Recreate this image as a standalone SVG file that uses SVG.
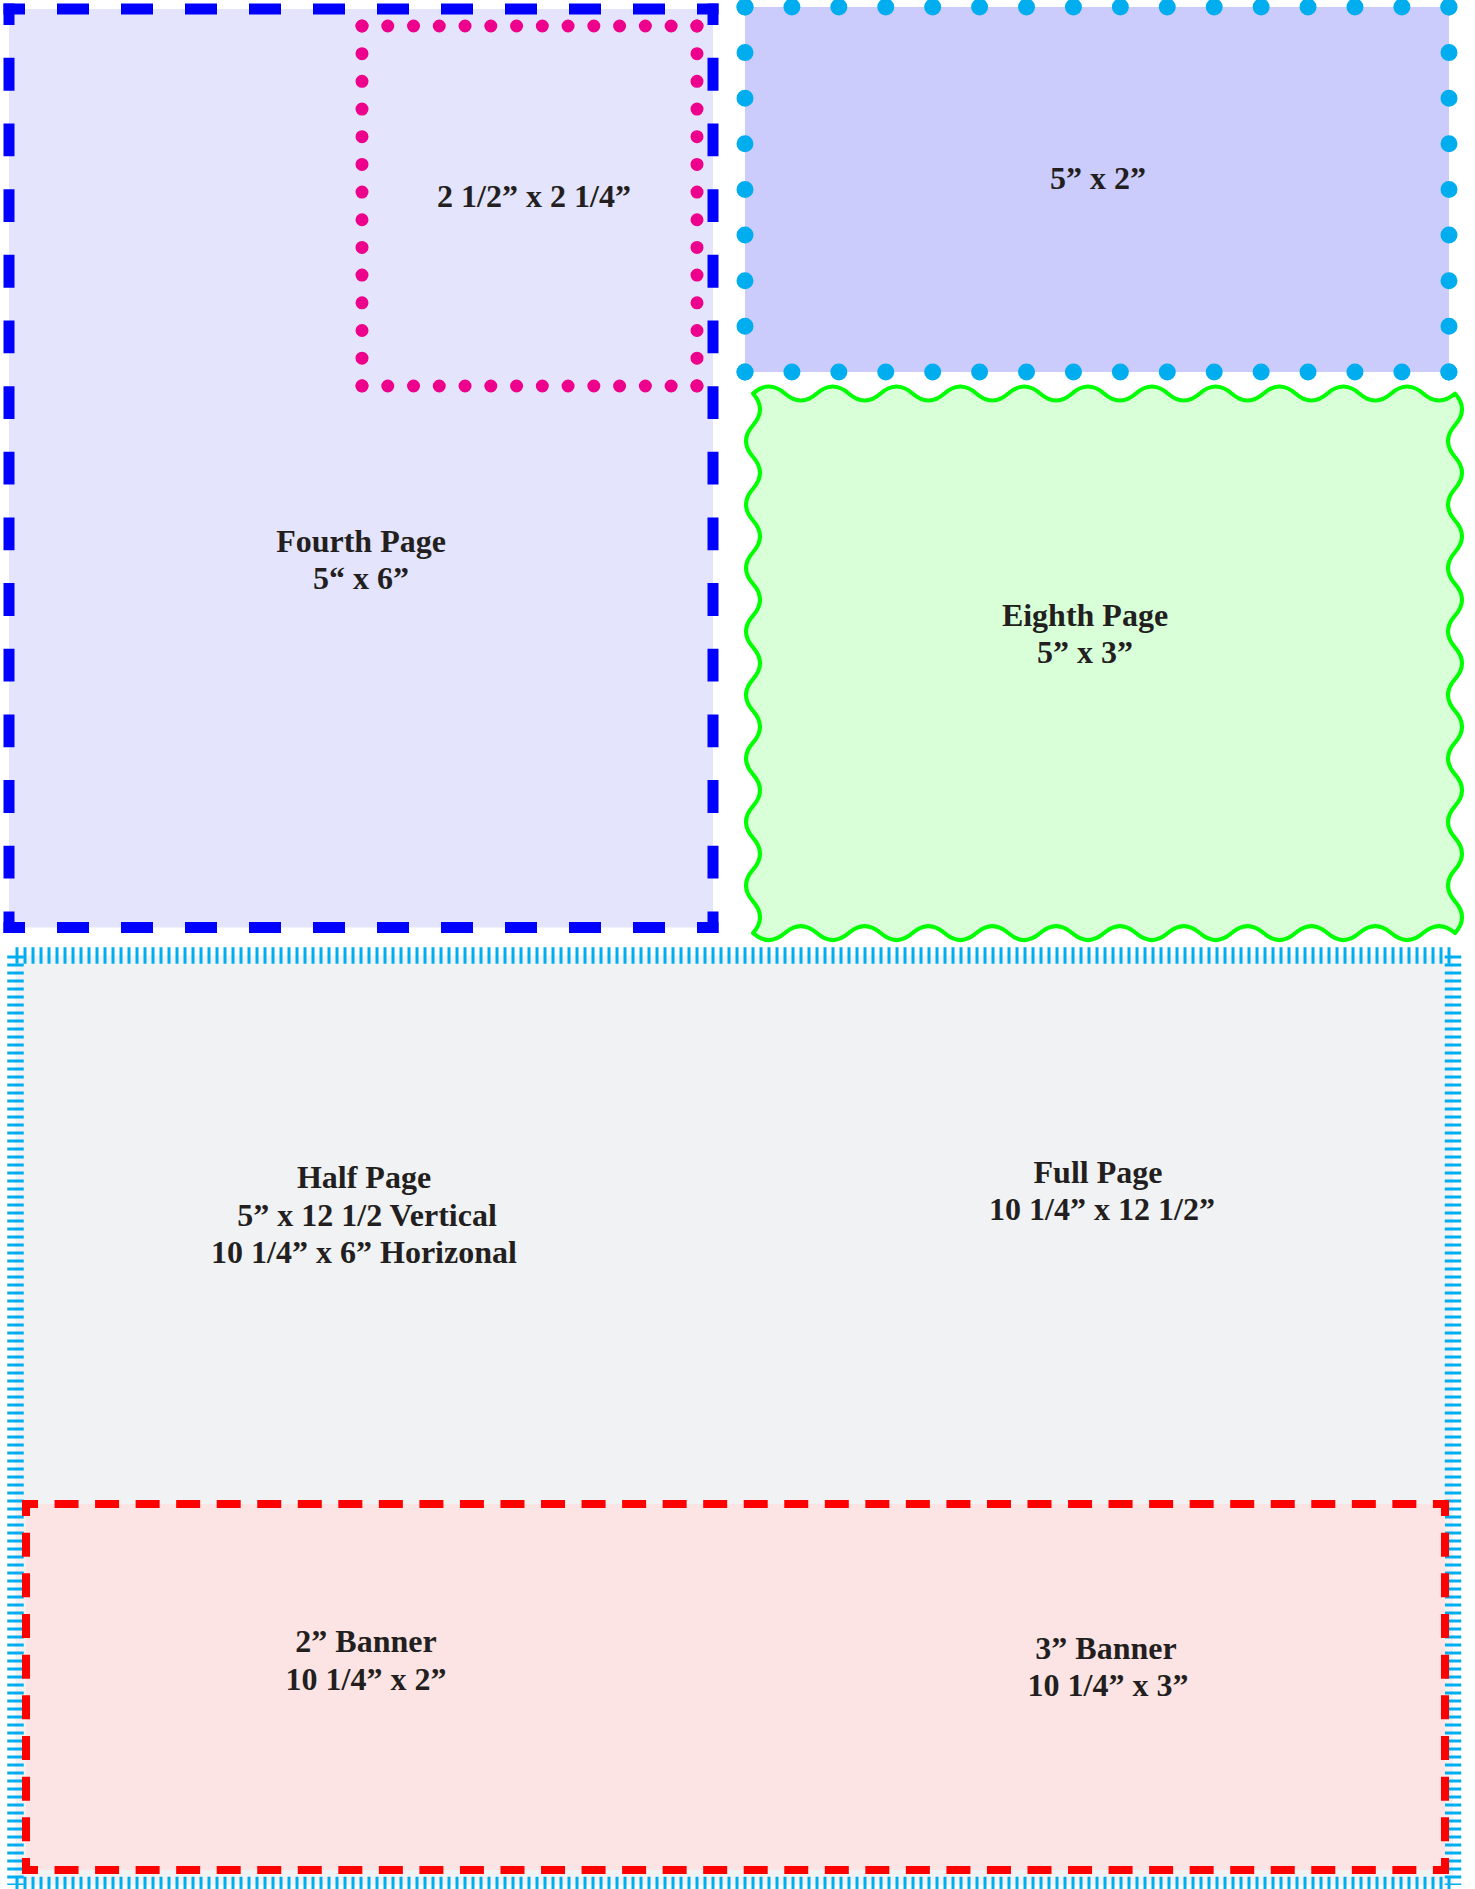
<svg xmlns="http://www.w3.org/2000/svg" width="1475" height="1889" viewBox="0 0 1475 1889">
<style>
  .t { font-family: "Liberation Serif", "Times New Roman", serif; font-weight: bold; font-size: 32px; fill: #231F20; text-anchor: middle; }
  .blue { stroke: #0000FF; stroke-width: 11; fill: none; stroke-linecap: butt; }
  .pink { stroke: #EC008C; stroke-width: 13; fill: none; stroke-linecap: round; }
  .cyan { stroke: #00AEEF; stroke-width: 17; fill: none; stroke-linecap: round; }
  .hatch { stroke: #00AEEF; stroke-width: 16.5; fill: none; stroke-dasharray: 3 5; }
  .red { stroke: #FF0000; stroke-width: 8; fill: none; }
</style>
<rect width="1475" height="1889" fill="#FFFFFF"/>

<g id="fourth-page">
  <rect x="9" y="9" width="704" height="918.5" fill="#E4E4FC"/>
  <line class="blue" x1="3.5" y1="9" x2="718.5" y2="9" stroke-dasharray="32 32" stroke-dashoffset="10.5"/>
  <line class="blue" x1="3.5" y1="927.5" x2="718.5" y2="927.5" stroke-dasharray="32 32" stroke-dashoffset="10.5"/>
  <line class="blue" x1="9" y1="3.5" x2="9" y2="933" stroke-dasharray="32.83 32.83" stroke-dashoffset="11.33"/>
  <line class="blue" x1="713" y1="3.5" x2="713" y2="933" stroke-dasharray="32.83 32.83" stroke-dashoffset="11.33"/>
  <text class="t" x="361" y="552">Fourth Page</text>
  <text class="t" x="361" y="589">5“ x 6”</text>
</g>

<g id="quarter-box">
  <line class="pink" x1="362" y1="26" x2="697" y2="26" stroke-dasharray="0 25.76"/>
  <line class="pink" x1="362" y1="386" x2="697" y2="386" stroke-dasharray="0 25.76"/>
  <line class="pink" x1="362" y1="26" x2="362" y2="386" stroke-dasharray="0 27.68"/>
  <line class="pink" x1="697" y1="26" x2="697" y2="386" stroke-dasharray="0 27.68"/>
  <text class="t" x="534" y="207">2 1/2” x 2 1/4”</text>
</g>

<g id="five-by-two">
  <rect x="745" y="7" width="704" height="365" fill="#CCCCFC"/>
  <line class="cyan" x1="745" y1="7" x2="1449" y2="7" stroke-dasharray="0 46.92"/>
  <line class="cyan" x1="745" y1="372" x2="1449" y2="372" stroke-dasharray="0 46.92"/>
  <line class="cyan" x1="745" y1="7" x2="745" y2="372" stroke-dasharray="0 45.62"/>
  <line class="cyan" x1="1449" y1="7" x2="1449" y2="372" stroke-dasharray="0 45.62"/>
  <text class="t" x="1098" y="189">5” x 2”</text>
</g>

<g id="eighth-page">
  <path fill="#D9FFD9" stroke="#00FF00" stroke-width="4" stroke-linejoin="round"
    d="M753,393.5 q15.95,-14 31.91,0 t31.91,0 t31.91,0 t31.91,0 t31.91,0 t31.91,0 t31.91,0 t31.91,0 t31.91,0 t31.91,0 t31.91,0 t31.91,0 t31.91,0 t31.91,0 t31.91,0 t31.91,0 t31.91,0 t31.91,0 t31.91,0 t31.91,0 t31.91,0 t31.91,0
       q14,15.87 0,31.74 t0,31.74 t0,31.74 t0,31.74 t0,31.74 t0,31.74 t0,31.74 t0,31.74 t0,31.74 t0,31.74 t0,31.74 t0,31.74 t0,31.74 t0,31.74 t0,31.74 t0,31.74 t0,31.74
       q-15.95,-14 -31.91,0 t-31.91,0 t-31.91,0 t-31.91,0 t-31.91,0 t-31.91,0 t-31.91,0 t-31.91,0 t-31.91,0 t-31.91,0 t-31.91,0 t-31.91,0 t-31.91,0 t-31.91,0 t-31.91,0 t-31.91,0 t-31.91,0 t-31.91,0 t-31.91,0 t-31.91,0 t-31.91,0 t-31.91,0
       q14,-15.87 0,-31.74 t0,-31.74 t0,-31.74 t0,-31.74 t0,-31.74 t0,-31.74 t0,-31.74 t0,-31.74 t0,-31.74 t0,-31.74 t0,-31.74 t0,-31.74 t0,-31.74 t0,-31.74 t0,-31.74 t0,-31.74 t0,-31.74 Z"/>
  <text class="t" x="1085" y="626">Eighth Page</text>
  <text class="t" x="1085" y="663">5” x 3”</text>
</g>

<g id="full-page">
  <rect x="15.5" y="955.5" width="1437.5" height="929.5" fill="#F1F2F4"/>
  <line class="hatch" x1="15.5" y1="955.5" x2="1453" y2="955.5"/>
  <line class="hatch" x1="15.5" y1="1885" x2="1453" y2="1885"/>
  <line class="hatch" x1="15.5" y1="955.5" x2="15.5" y2="1885"/>
  <line class="hatch" x1="1453" y1="955.5" x2="1453" y2="1885"/>
  <text class="t" x="364" y="1188">Half Page</text>
  <text class="t" x="367" y="1226">5” x 12 1/2 Vertical</text>
  <text class="t" x="364" y="1263">10 1/4” x 6” Horizonal</text>
  <text class="t" x="1098" y="1183">Full Page</text>
  <text class="t" x="1102" y="1220">10 1/4” x 12 1/2”</text>
</g>

<g id="banners">
  <rect x="26" y="1504" width="1419" height="366" fill="#FDE4E4"/>
  <line class="red" x1="22" y1="1504" x2="1449" y2="1504" stroke-dasharray="24 16.54" stroke-dashoffset="8"/>
  <line class="red" x1="22" y1="1870" x2="1449" y2="1870" stroke-dasharray="24 16.54" stroke-dashoffset="8"/>
  <line class="red" x1="26" y1="1500" x2="26" y2="1874" stroke-dasharray="24 16.67" stroke-dashoffset="8"/>
  <line class="red" x1="1445" y1="1500" x2="1445" y2="1874" stroke-dasharray="24 16.67" stroke-dashoffset="8"/>
  <text class="t" x="366" y="1652">2” Banner</text>
  <text class="t" x="366" y="1690">10 1/4” x 2”</text>
  <text class="t" x="1106" y="1659">3” Banner</text>
  <text class="t" x="1108" y="1696">10 1/4” x 3”</text>
</g>

<g id="connectors"></g>
</svg>
